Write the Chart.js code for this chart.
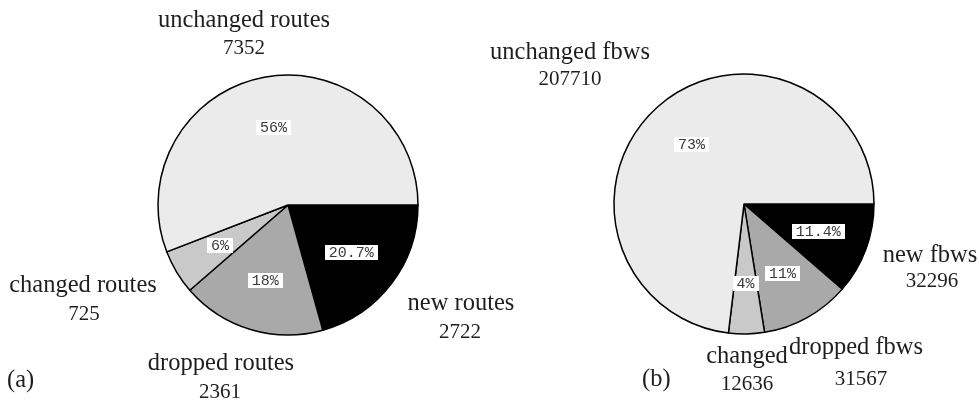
<!DOCTYPE html>
<html>
<head>
<meta charset="utf-8">
<script src="https://cdn.jsdelivr.net/npm/chart.js@4/dist/chart.umd.min.js"></script>
<style>
  html, body { margin: 0; padding: 0; background: #ffffff; }
  #wrap { position: relative; width: 979px; height: 402px; }
  #wrap canvas { position: absolute; left: 0; top: 0; }
</style>
</head>
<body>
<div id="wrap">
  <canvas id="routes" width="979" height="402"></canvas>
  <canvas id="flows" width="979" height="402"></canvas>
</div>
<script>
// Slices are listed clockwise starting at 3 o'clock: new, dropped, changed, unchanged.
const routeNames  = ['new routes', 'dropped routes', 'changed routes', 'unchanged routes'];
const routeCounts = [2722, 2361, 725, 7352];
const routeShares = ['20.7%', '18%', '6%', '56%'];

const flowNames  = ['new fbws', 'dropped fbws', 'changed', 'unchanged fbws'];
const flowCounts = [32296, 31567, 12636, 207710];
const flowShares = ['11.4%', '11%', '4%', '73%'];

const sliceColors = ['#000000', '#a9a9a9', '#c9c9c9', '#ebebeb'];

const NAME_FONT = '24.5px "Liberation Serif", "Times New Roman", serif';
const NUM_FONT  = '21px "Liberation Serif", "Times New Roman", serif';
const PCT_FONT  = '15px "Liberation Mono", "DejaVu Sans Mono", monospace';
const INK = '#1e1e1e';

// Percent tags inside the slices and the name / count captions around each pie.
const pieLabels = {
  id: 'pieLabels',
  afterDatasetsDraw(chart, args, opts) {
    const ctx = chart.ctx;
    const meta = chart.getDatasetMeta(0);
    const ds = chart.data.datasets[0];
    ctx.save();
    ctx.font = PCT_FONT;
    ctx.textAlign = 'center';
    ctx.textBaseline = 'middle';
    meta.data.forEach((arc, i) => {
      const p = arc.getProps(['x', 'y', 'startAngle', 'endAngle', 'outerRadius'], true);
      const mid = (p.startAngle + p.endAngle) / 2;
      const r = p.outerRadius * 0.61;
      const cx = p.x + Math.cos(mid) * r;
      const cy = p.y + Math.sin(mid) * r;
      const txt = ds.shares[i];
      const w = ctx.measureText(txt).width + 8;
      const h = 15;
      ctx.fillStyle = '#ffffff';
      ctx.fillRect(Math.round(cx - w / 2), Math.round(cy - h / 2), Math.round(w), h);
      ctx.fillStyle = '#3a3a3a';
      ctx.fillText(txt, cx, cy + 0.5);
    });
    ctx.restore();
  },
  afterDraw(chart, args, opts) {
    const ctx = chart.ctx;
    const meta = chart.getDatasetMeta(0);
    const ds = chart.data.datasets[0];
    const c = meta.data[0].getProps(['x', 'y'], true);
    ctx.save();
    ctx.fillStyle = INK;
    ctx.textAlign = 'center';
    ctx.textBaseline = 'alphabetic';
    chart.data.labels.forEach((name, i) => {
      const a = opts.anchors[i];
      ctx.font = NAME_FONT;
      ctx.fillText(name, c.x + a[0], c.y + a[1]);
      ctx.font = NUM_FONT;
      ctx.fillText(String(ds.data[i]), c.x + a[3], c.y + a[2]);
    });
    ctx.font = NAME_FONT;
    ctx.textAlign = 'left';
    ctx.fillText(opts.tag, opts.tagPos[0], opts.tagPos[1]);
    ctx.restore();
  }
};

function makePie(canvasId, names, counts, shares, padding, anchors, tag, tagPos) {
  return new Chart(document.getElementById(canvasId), {
    type: 'pie',
    data: {
      labels: names,
      datasets: [{
        data: counts,
        shares: shares,
        backgroundColor: sliceColors,
        borderColor: '#000000',
        borderWidth: 1.5,
        borderJoinStyle: 'round'
      }]
    },
    options: {
      responsive: false,
      animation: false,
      events: [],
      rotation: 90,
      radius: 130,
      layout: { padding: padding },
      plugins: {
        legend: { display: false },
        tooltip: { enabled: false },
        pieLabels: { anchors: anchors, tag: tag, tagPos: tagPos }
      }
    },
    plugins: [pieLabels]
  });
}

// caption anchors relative to the pie centre: [dx name, name baseline dy, count baseline dy, dx count]
makePie('routes', routeNames, routeCounts, routeShares,
  { left: 157, right: 560, top: 74, bottom: 66 },
  [[173, 105, 133, 172], [-67, 165, 193, -68], [-205, 87, 115, -204], [-44, -178, -151, -44]],
  '(a)', [7, 387]);

makePie('flows', flowNames, flowCounts, flowShares,
  { left: 613, right: 104, top: 73, bottom: 67 },
  [[186, 58, 83, 188], [112, 150, 181, 117], [3, 159, 186, 3], [-174, -145, -119, -174]],
  '(b)', [642, 386]);
</script>
</body>
</html>
